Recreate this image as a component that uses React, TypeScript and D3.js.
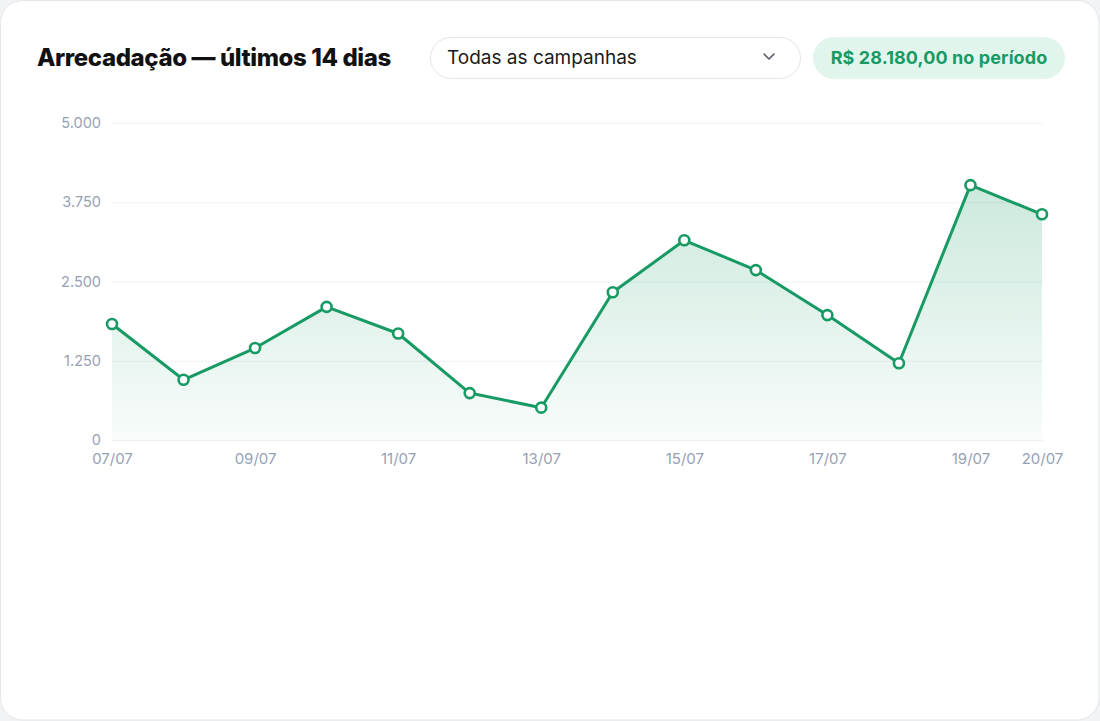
import * as d3 from "d3";
import { useEffect, useRef } from "react";

// dados
const days = ["07/07", "08/07", "09/07", "10/07", "11/07", "12/07", "13/07", "14/07", "15/07", "16/07", "17/07", "18/07", "19/07", "20/07"];
const values = [1830, 950, 1450, 2100, 1680, 740, 510, 2330, 3150, 2680, 1970, 1210, 4020, 3560];
const yTicks = [0, 1250, 2500, 3750, 5000];
const xTickLabels = ["07/07", "09/07", "11/07", "13/07", "15/07", "17/07", "19/07", "20/07"];

const width = 1100;
const height = 721;
const margin = { top: 123, right: 58, bottom: 281, left: 112 };
const green = "#189a64";
const font = "Inter, 'Noto Sans', sans-serif";

const fmt = (v: number) => v.toLocaleString("pt-BR");
const total = d3.sum(values);

export default function App() {
  const ref = useRef<SVGSVGElement>(null);

  useEffect(() => {
    if (!ref.current) return;
    const svg = d3.select(ref.current);
    svg.selectAll("*").remove();

    const x = d3
      .scalePoint()
      .domain(days)
      .range([margin.left, width - margin.right]);

    const y = d3
      .scaleLinear()
      .domain([0, 5000])
      .range([height - margin.bottom, margin.top]);

    // fundo + card
    svg.append("rect").attr("width", width).attr("height", height).attr("fill", "#f1f3f5");
    svg
      .append("rect")
      .attr("x", 0.5)
      .attr("y", 0.5)
      .attr("width", width - 1.5)
      .attr("height", height - 1.5)
      .attr("rx", 22)
      .attr("fill", "#fff")
      .attr("stroke", "#e3e6ea");

    // cabeçalho
    svg
      .append("text")
      .attr("x", 37)
      .attr("y", 66)
      .attr("font-family", font)
      .attr("font-size", 24)
      .attr("font-weight", 800)
      .attr("letter-spacing", -0.4)
      .attr("fill", "#111")
      .text("Arrecadação — últimos 14 dias");

    svg
      .append("rect")
      .attr("x", 430.5)
      .attr("y", 37.5)
      .attr("width", 370)
      .attr("height", 41)
      .attr("rx", 20.5)
      .attr("fill", "#fff")
      .attr("stroke", "#e2e5ea");
    svg
      .append("text")
      .attr("x", 447)
      .attr("y", 64)
      .attr("font-family", font)
      .attr("font-size", 19)
      .attr("fill", "#1a1a1a")
      .text("Todas as campanhas");
    svg
      .append("path")
      .attr("d", "M764,54 L769,59 L774,54")
      .attr("fill", "none")
      .attr("stroke", "#555b66")
      .attr("stroke-width", 1.6)
      .attr("stroke-linecap", "round")
      .attr("stroke-linejoin", "round");

    svg
      .append("rect")
      .attr("x", 813)
      .attr("y", 37)
      .attr("width", 252)
      .attr("height", 42)
      .attr("rx", 21)
      .attr("fill", "#e2f5ec");
    svg
      .append("text")
      .attr("x", 939)
      .attr("y", 63.5)
      .attr("text-anchor", "middle")
      .attr("font-family", font)
      .attr("font-size", 18)
      .attr("font-weight", 700)
      .attr("letter-spacing", 0.1)
      .attr("fill", green)
      .text(`R$ ${total.toLocaleString("pt-BR", { minimumFractionDigits: 2 })} no período`);

    // grade + eixo y
    const yAxis = svg
      .append("g")
      .attr("transform", `translate(${margin.left},0)`)
      .call(
        d3
          .axisLeft(y)
          .tickValues(yTicks)
          .tickSize(-(width - margin.left - margin.right + 1))
          .tickPadding(11)
          .tickFormat((d) => fmt(+d))
      );
    yAxis.select(".domain").remove();
    yAxis.selectAll(".tick line").attr("stroke", "#eef0f3");
    yAxis
      .selectAll(".tick text")
      .attr("fill", "#97a1b4")
      .attr("font-family", font)
      .attr("font-size", 14.5);

    // área com gradiente
    const defs = svg.append("defs");
    const grad = defs
      .append("linearGradient")
      .attr("id", "areaGrad")
      .attr("x1", 0)
      .attr("x2", 0)
      .attr("y1", 0)
      .attr("y2", 1);
    grad.append("stop").attr("offset", "0%").attr("stop-color", green).attr("stop-opacity", 0.22);
    grad.append("stop").attr("offset", "100%").attr("stop-color", green).attr("stop-opacity", 0.03);

    const area = d3
      .area<number>()
      .x((_, i) => x(days[i])!)
      .y0(y(0))
      .y1((d) => y(d));
    svg.append("path").datum(values).attr("d", area).attr("fill", "url(#areaGrad)");

    const line = d3
      .line<number>()
      .x((_, i) => x(days[i])!)
      .y((d) => y(d));
    svg
      .append("path")
      .datum(values)
      .attr("d", line)
      .attr("fill", "none")
      .attr("stroke", green)
      .attr("stroke-width", 3)
      .attr("stroke-linejoin", "round");

    svg
      .append("g")
      .selectAll("circle")
      .data(values)
      .join("circle")
      .attr("cx", (_, i) => x(days[i])!)
      .attr("cy", (d) => y(d))
      .attr("r", 5)
      .attr("fill", "#fff")
      .attr("stroke", green)
      .attr("stroke-width", 2.6);

    // eixo x
    const xAxis = svg
      .append("g")
      .attr("transform", `translate(0,${height - margin.bottom})`)
      .call(d3.axisBottom(x).tickValues(xTickLabels).tickSize(0).tickPadding(13));
    xAxis.select(".domain").remove();
    xAxis
      .selectAll(".tick text")
      .attr("fill", "#97a1b4")
      .attr("font-family", font)
      .attr("font-size", 15);

    return () => {
      svg.selectAll("*").remove();
    };
  }, []);

  return (
    <svg
      ref={ref}
      width={width}
      height={height}
      style={{ position: "absolute", left: 0, top: 0 }}
    />
  );
}
